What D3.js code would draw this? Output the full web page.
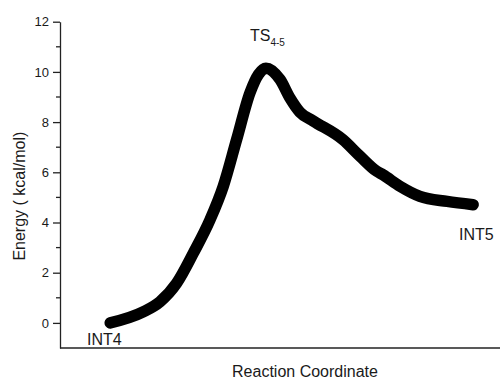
<!DOCTYPE html>
<html>
<head>
<meta charset="utf-8">
<script src="https://cdn.jsdelivr.net/npm/d3@7"></script>
<style>
  body { margin: 0; background: #fff; }
  text { font-family: 'Liberation Sans', Arial, sans-serif; fill: #1a1a1a; }
</style>
</head>
<body>
<svg id="chart" width="500" height="381"></svg>
<script>
// reaction coordinate (arbitrary units) and energy (kcal/mol)
const coord = [11.4, 18.9, 22.7, 26.5, 30.3, 34.1, 37.1, 40.15, 43.2, 45.1, 46.8, 50.0, 52.3, 54.5, 57.5, 64.3, 68.2, 72.0, 73.4, 77.3, 81.8, 88.0, 93.9]
const energy = [0.0, 0.44, 0.84, 1.58, 2.78, 4.11, 5.44, 7.31, 9.18, 9.9, 10.15, 9.7, 8.95, 8.4, 8.05, 7.3, 6.64, 6.04, 5.9, 5.44, 5.04, 4.84, 4.71]
const yTicks = [0, 2, 4, 6, 8, 10, 12]
const yMinor = [1, 3, 5, 7, 9, 11]

const svg = d3.select('#chart')

const x = d3.scaleLinear()
  .domain([0, 100])
  .range([60, 500])

const y = d3.scaleLinear()
  .domain([-1, 12])
  .range([348, 21.7])

// axes
const yAxis = d3.axisLeft(y)
  .tickValues(yTicks)
  .tickSize(7)
  .tickPadding(4)
  .tickSizeOuter(0)

const gy = svg.append('g')
  .attr('transform', `translate(${x(0)},0)`)
  .call(yAxis)
gy.select('.domain').attr('stroke', '#222').attr('stroke-width', 1.3)
gy.selectAll('.tick line').attr('stroke', '#222').attr('stroke-width', 1.3)
gy.selectAll('.tick text')
  .style('font-size', '13px')
  .style('font-family', "'Liberation Sans', Arial, sans-serif")
  .attr('fill', '#1a1a1a')

gy.selectAll('.minor')
  .data(yMinor)
  .enter().append('line')
  .attr('x1', -4)
  .attr('x2', 0)
  .attr('y1', d => y(d))
  .attr('y2', d => y(d))
  .attr('stroke', '#222')
  .attr('stroke-width', 1.3)

// x axis, no ticks
svg.append('line')
  .attr('x1', x(0))
  .attr('x2', x(100))
  .attr('y1', y(-1))
  .attr('y2', y(-1))
  .attr('stroke', '#222')
  .attr('stroke-width', 1.5)

// curve
const pts = coord.map((c, i) => [c, energy[i]])
const line = d3.line()
  .x(d => x(d[0]))
  .y(d => y(d[1]))
  .curve(d3.curveMonotoneX)

svg.append('path')
  .datum(pts)
  .attr('d', line)
  .attr('fill', 'none')
  .attr('stroke', '#000')
  .attr('stroke-width', 11.5)
  .attr('stroke-linecap', 'round')
  .attr('stroke-linejoin', 'round')

// labels
svg.append('text')
  .attr('x', 87)
  .attr('y', 345)
  .style('font-size', '16px')
  .text('INT4')

svg.append('text')
  .attr('x', 459)
  .attr('y', 240)
  .style('font-size', '16px')
  .text('INT5')

const ts = svg.append('text')
  .attr('x', 250)
  .attr('y', 41)
  .style('font-size', '16px')
ts.append('tspan').text('TS')
ts.append('tspan')
  .attr('dy', 5)
  .style('font-size', '10px')
  .text('4-5')

svg.append('text')
  .attr('x', 305)
  .attr('y', 377)
  .attr('text-anchor', 'middle')
  .style('font-size', '16px')
  .text('Reaction Coordinate')

svg.append('text')
  .attr('transform', `translate(25,${y(5.05)}) rotate(-90)`)
  .attr('text-anchor', 'middle')
  .style('font-size', '16px')
  .text('Energy ( kcal/mol)')
</script>
</body>
</html>
